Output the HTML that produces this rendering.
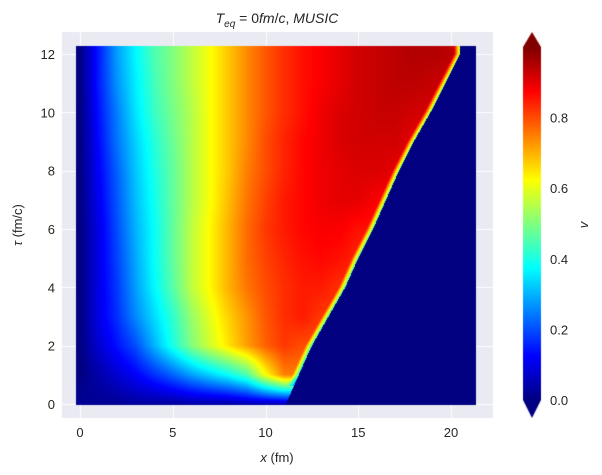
<!DOCTYPE html>
<html><head><meta charset="utf-8">
<style>
body{margin:0;background:#fff;font-family:"Liberation Sans","DejaVu Sans",sans-serif;}
#wrap{position:relative;width:602px;height:475px;overflow:hidden;}
canvas{position:absolute;left:0;top:0;}
svg{position:absolute;left:0;top:0;}
</style></head><body>
<div id="wrap">
<canvas id="c" width="602" height="475"></canvas>
<svg id="s" width="602" height="475"></svg>
</div>
<script>
const xCoords=[0,1,2,3,4,5,6,7,8,9,10,11,12,13,14,15,16,17,18,19,20,21];
const tauCoords=[0,1,2,3,4,5,6,7,8,9,10,11,12];
const frontX=[11.1,11.8,12.5,13.4,14.3,15.0,15.8,16.5,17.2,18.0,18.9,19.7,20.5];
const vRow0=[0.02,0.02,0.02,0.03,0.03,0.03,0.04,0.04,0.04,0.05,0.05,0.05,0,0,0,0,0,0,0,0,0,0];
const vRow1=[0,0.04,0.08,0.12,0.17,0.22,0.28,0.33,0.38,0.45,0.62,0.75,0,0,0,0,0,0,0,0,0,0];
const vRow2=[0,0.08,0.14,0.2,0.3,0.4,0.5,0.58,0.65,0.72,0.78,0.82,0.8,0,0,0,0,0,0,0,0,0];
const vRow3=[0,0.1,0.17,0.26,0.34,0.42,0.52,0.6,0.67,0.73,0.79,0.83,0.85,0.82,0,0,0,0,0,0,0,0];
const vRow4=[0,0.1,0.18,0.28,0.37,0.46,0.56,0.63,0.7,0.76,0.8,0.83,0.85,0.85,0.83,0,0,0,0,0,0,0];
const vRow5=[0,0.1,0.19,0.29,0.38,0.47,0.56,0.63,0.7,0.77,0.81,0.84,0.86,0.87,0.86,0.84,0,0,0,0,0,0];
const vRow6=[0,0.1,0.2,0.3,0.38,0.47,0.56,0.63,0.7,0.77,0.82,0.85,0.87,0.88,0.88,0.86,0,0,0,0,0,0];
const vRow7=[0,0.11,0.21,0.31,0.39,0.47,0.55,0.62,0.69,0.76,0.81,0.85,0.87,0.89,0.9,0.9,0.88,0,0,0,0,0];
const vRow8=[0,0.12,0.22,0.32,0.4,0.47,0.55,0.62,0.68,0.75,0.8,0.84,0.87,0.89,0.9,0.91,0.91,0.9,0,0,0,0];
const vRow9=[0,0.13,0.24,0.33,0.41,0.48,0.55,0.62,0.68,0.74,0.8,0.84,0.87,0.89,0.91,0.92,0.92,0.92,0.9,0,0,0];
const vRow10=[0,0.14,0.25,0.35,0.43,0.49,0.55,0.62,0.68,0.74,0.79,0.83,0.86,0.89,0.91,0.92,0.93,0.93,0.92,0,0,0];
const vRow11=[0,0.15,0.27,0.36,0.44,0.5,0.56,0.62,0.68,0.74,0.79,0.83,0.86,0.88,0.9,0.92,0.93,0.94,0.94,0.93,0,0];
const vRow12=[0,0.15,0.28,0.37,0.45,0.5,0.56,0.62,0.68,0.74,0.79,0.83,0.86,0.88,0.9,0.92,0.93,0.94,0.95,0.95,0.94,0];
const vRows=[vRow0,vRow1,vRow2,vRow3,vRow4,vRow5,vRow6,vRow7,vRow8,vRow9,vRow10,vRow11,vRow12];
const xTicks=[0,5,10,15,20];
const yTicks=[0,2,4,6,8,10,12];
const cbTicks=[0.0,0.2,0.4,0.6,0.8];

const AX={l:62,r:493,t:32,b:418};
const sx=v=>80+v*18.55;
const sy=v=>404-v*29.17;
const cb={l:523,r:541,y0:400,y1:47};
const cy=v=>cb.y0+(cb.y1-cb.y0)*v;
function jet(v){const c=t=>Math.max(0,Math.min(1,t));
 return [c(1.5-Math.abs(4*v-3)),c(1.5-Math.abs(4*v-2)),c(1.5-Math.abs(4*v-1))].map(q=>Math.round(q*255));}
function rgb(a){return `rgb(${a[0]},${a[1]},${a[2]})`;}
// rows with interior value extended past the front (so the front can be cut sharply)
const filled=vRows.map((row,j)=>{const out=row.slice();let last=0;
 for(let i=0;i<out.length;i++){if(xCoords[i]<frontX[j]+0.99&&out[i]>0)last=out[i];else if(xCoords[i]>=frontX[j]-0.01)out[i]=last;}
 return out;});
function frontAt(t){const nt=tauCoords.length-1;let ft=Math.max(0,Math.min(nt-1e-6,t));const j=Math.floor(ft),d=ft-j;
 return frontX[j]*(1-d)+frontX[j+1]*d;}
function lookup(x,t){
 const fr=frontAt(t);
 if(t>0.35&&x>fr)return 0;
 if(t<=0.35&&x>fr)return 0;
 const nx=xCoords.length-1,nt=tauCoords.length-1;
 let fx=Math.max(0,Math.min(nx-1e-6,x-xCoords[0]));let ft=Math.max(0,Math.min(nt-1e-6,t-tauCoords[0]));
 const i=Math.floor(fx),j=Math.floor(ft),dx=fx-i,dt=ft-j;
 const a=filled[j][i],b=filled[j][i+1],c=filled[j+1][i],d=filled[j+1][i+1];
 let v=a*(1-dx)*(1-dt)+b*dx*(1-dt)+c*(1-dx)*dt+d*dx*dt;
 // soft fringe near front
 const dist=fr-x; if(dist<0.35&&t>0.6) v=v*(0.55+0.45*dist/0.35);
 return v;}

const ctx=document.getElementById('c').getContext('2d');
ctx.fillStyle='#EAEAF2';ctx.fillRect(AX.l,AX.t,AX.r-AX.l,AX.b-AX.t);
ctx.strokeStyle='#fff';ctx.lineWidth=1;
xTicks.forEach(v=>{ctx.beginPath();ctx.moveTo(Math.round(sx(v))+0.5,AX.t);ctx.lineTo(Math.round(sx(v))+0.5,AX.b);ctx.stroke();});
yTicks.forEach(v=>{ctx.beginPath();ctx.moveTo(AX.l,Math.round(sy(v))+0.5);ctx.lineTo(AX.r,Math.round(sy(v))+0.5);ctx.stroke();});
const xMin=sx(-0.2),xMax=sx(21.3),yTop=sy(12.27),yBot=sy(-0.02);
for(let py=Math.floor(yTop);py<yBot;py+=1){
 for(let px=Math.floor(xMin);px<xMax;px+=1){
  const v=lookup((px+0.5-80)/18.55,(404-py-0.5)/29.17);
  ctx.fillStyle=rgb(jet(v));ctx.fillRect(px,py,1,1);
 }
}
for(let py=Math.floor(cb.y1);py<cb.y0;py++){ctx.fillStyle=rgb(jet((cb.y0-py)/(cb.y0-cb.y1)));ctx.fillRect(cb.l,py,cb.r-cb.l,1);}
ctx.fillStyle=rgb(jet(1));ctx.beginPath();ctx.moveTo(cb.l,cb.y1);ctx.lineTo(cb.r,cb.y1);ctx.lineTo((cb.l+cb.r)/2,32);ctx.fill();
ctx.fillStyle=rgb(jet(0));ctx.beginPath();ctx.moveTo(cb.l,cb.y0);ctx.lineTo(cb.r,cb.y0);ctx.lineTo((cb.l+cb.r)/2,418);ctx.fill();

const svg=document.getElementById('s');const NS='http://www.w3.org/2000/svg';
function txt(x,y,s,anchor,name,extra){const t=document.createElementNS(NS,'text');
 t.setAttribute('x',x);t.setAttribute('y',y);t.setAttribute('text-anchor',anchor);
 t.setAttribute('font-size','13');t.setAttribute('fill','#262626');
 t.setAttribute('font-family','"Liberation Sans","DejaVu Sans",sans-serif');
 if(extra)for(const k in extra)t.setAttribute(k,extra[k]);
 t.textContent=s;
 
 
 svg.appendChild(t);return t;}
xTicks.forEach(v=>txt(sx(v),437,String(v),'middle','x-tick-label'));
yTicks.forEach(v=>txt(55,sy(v)+5,String(v),'end','y-tick-label'));
cbTicks.forEach(v=>txt(550,cy(v)+5,v.toFixed(1),'start','colorbar-tick-label'));
txt(277,462,'','middle','x-axis-title').innerHTML='<tspan font-style="italic">x</tspan> (fm)';
txt(22,225,'','middle','y-axis-title',{transform:'rotate(-90 22 225)'}).innerHTML='<tspan font-style="italic">τ</tspan> (fm/c)';
txt(588,225,'v','middle','colorbar-title',{transform:'rotate(-90 588 225)','font-style':'italic'});
txt(277,23,'','middle','chart-title',{'font-size':'14'}).innerHTML='<tspan font-style="italic">T</tspan><tspan font-style="italic" font-size="10" dy="4">eq</tspan><tspan dy="-4"> = 0</tspan><tspan font-style="italic">fm</tspan>/<tspan font-style="italic">c</tspan>, <tspan font-style="italic">MUSIC</tspan>';
</script>
</body></html>
